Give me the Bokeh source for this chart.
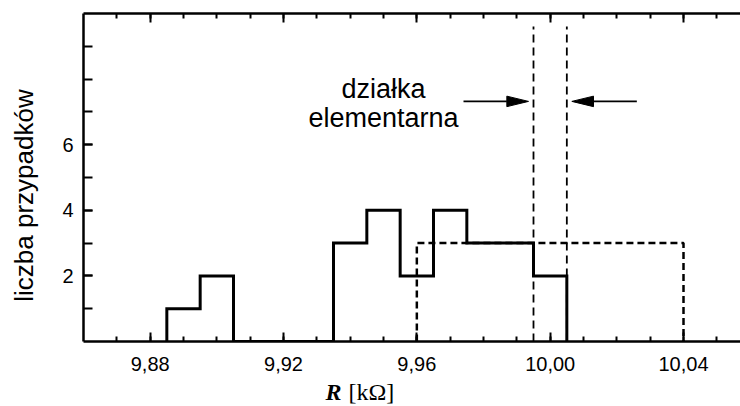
import math
from bokeh.plotting import figure
from bokeh.layouts import row, column
from bokeh.models import (Range1d, LinearAxis, FixedTicker, CustomJSTickFormatter,
                          CustomLabelingPolicy)
from bokeh.core.properties import value
from bokeh.embed import file_html
from bokeh.resources import INLINE

# ---- data ----
bin_centers = [9.89, 9.90, 9.91, 9.92, 9.93, 9.94, 9.95, 9.96, 9.97, 9.98, 9.99, 10.00]
counts = [1, 2, 0, 0, 0, 3, 4, 2, 4, 3, 3, 2]
bin_width = 0.01
wide_edges = [9.96, 10.04]
wide_count = 3
division_edges = [9.995, 10.005]
division_top = 9.6
arrow_left_x = [9.974, 9.9935]
arrow_right_x = [10.026, 10.0065]
arrow_y = 7.32
note_lines = ["działka", "elementarna"]
note_x = [9.95, 9.95]
note_y = [7.69, 6.81]
x_ticks = [9.88, 9.92, 9.96, 10.00, 10.04]
x_tick_labels = ["9,88", "9,92", "9,96", "10,00", "10,04"]
x_minor_ticks = [9.87, 9.88, 9.89, 9.90, 9.91, 9.92, 9.93, 9.94, 9.95, 9.96, 9.97,
                 9.98, 9.99, 10.00, 10.01, 10.02, 10.03, 10.04, 10.05]
y_ticks = [2, 4, 6]
y_tick_labels = ["2", "4", "6"]
y_minor_ticks = [1, 2, 3, 4, 5, 6, 7, 8, 9]
y_label = "liczba przypadków"
x_label_symbol = "R"
x_label_unit = "[kΩ]"

X_RANGE = Range1d(9.86, 10.0571)
Y_RANGE = Range1d(0, 10)
MAIN_H = 378
TOP_B, BOT_B = 13, 37

# ---- main figure ----
p = figure(width=700, height=MAIN_H, title=None, output_backend="svg", toolbar_location=None,
           x_range=X_RANGE, y_range=Y_RANGE,
           x_axis_location=None, y_axis_location=None,
           min_border_left=43, min_border_right=0, min_border_top=TOP_B, min_border_bottom=BOT_B)
p.outline_line_color = None
p.xgrid.visible = False
p.ygrid.visible = False
p.background_fill_color = "white"
p.border_fill_color = "white"

fmt_code = """
    for (let i = 0; i < tv.length; i++) { if (Math.abs(tv[i] - tick) < 1e-6) return tl[i]; }
    return String(tick);
"""
xfmt = CustomJSTickFormatter(args=dict(tv=x_ticks, tl=x_tick_labels), code=fmt_code)
yfmt = CustomJSTickFormatter(args=dict(tv=y_ticks, tl=y_tick_labels), code=fmt_code)

def style_axis(ax):
    ax.axis_line_width = 2.5
    ax.axis_line_color = "black"
    ax.major_tick_line_width = 2
    ax.minor_tick_line_width = 2
    ax.major_tick_out = 0
    ax.minor_tick_out = 0
    ax.major_label_text_font = "Liberation Sans"
    ax.major_label_text_font_size = "20px"
    ax.major_label_text_color = "black"
    ax.major_label_standoff = 10

xb = LinearAxis(ticker=FixedTicker(ticks=x_ticks, minor_ticks=x_minor_ticks), formatter=xfmt)
style_axis(xb)
xb.major_label_standoff = 15
xb.major_tick_in = 9
xb.minor_tick_in = 5
p.add_layout(xb, "below")

xt = LinearAxis(ticker=FixedTicker(ticks=x_ticks, minor_ticks=x_minor_ticks), formatter=xfmt,
                major_label_policy=CustomLabelingPolicy(code="return new Set()"))
style_axis(xt)
xt.major_label_text_font_size = "0px"
xt.major_label_standoff = 0
xt.major_tick_in = 9
xt.minor_tick_in = 5
p.add_layout(xt, "above")

yl = LinearAxis(ticker=FixedTicker(ticks=y_ticks, minor_ticks=y_minor_ticks), formatter=yfmt)
style_axis(yl)
yl.major_tick_in = 9
yl.minor_tick_in = 9
p.add_layout(yl, "left")

# ---- solid histogram outline ----
hx, hy = [], []
for c, n in zip(bin_centers, counts):
    left, right = c - bin_width / 2, c + bin_width / 2
    if not hx:
        hx.append(left); hy.append(0)
    hx += [left, right]; hy += [n, n]
hx.append(hx[-1]); hy.append(0)
p.line(hx, hy, line_color="black", line_width=3, line_join="miter")

# ---- dashed wide-bin histogram ----
wx = [wide_edges[0], wide_edges[0], wide_edges[1], wide_edges[1]]
wy = [0, wide_count, wide_count, 0]
p.line(wx, wy, line_color="black", line_width=2.5, line_dash="7 4")

# ---- elementary division lines ----
for xe in division_edges:
    p.line([xe, xe], [0, division_top], line_color="black", line_width=1.8, line_dash="8 5")

# ---- arrows ----
head_len = 0.0065
head_half = 0.16
for xs in (arrow_left_x, arrow_right_x):
    start, tip = xs
    d = 1 if tip > start else -1
    base = tip - d * head_len
    p.line([start, base], [arrow_y, arrow_y], line_color="black", line_width=1.6)
    p.patch([tip, base, base], [arrow_y, arrow_y + head_half, arrow_y - head_half],
            fill_color="black", line_color="black", line_width=1)

p.text(x=note_x, y=note_y, text=note_lines, text_align="center", text_baseline="middle",
       text_font=value("Liberation Sans"), text_font_size="27px", text_color="black")

def blank_fig(**kw):
    f = figure(title=None, output_backend="svg", toolbar_location=None,
               x_axis_location=None, y_axis_location=None, **kw)
    f.outline_line_color = None
    f.xgrid.visible = False
    f.ygrid.visible = False
    f.background_fill_color = "white"
    f.border_fill_color = "white"
    return f

# ---- y label column ----
yfig = blank_fig(width=40, height=MAIN_H, x_range=Range1d(0, 40), y_range=Y_RANGE,
                 min_border_left=0, min_border_right=0, min_border_top=TOP_B, min_border_bottom=BOT_B)
yfig.text(x=[23], y=[4.45], text=[y_label], angle=math.pi / 2, text_align="center",
          text_baseline="middle", text_font=value("Liberation Sans"), text_font_size="26px",
          text_color="black")

# ---- x label row ----
XL_H = 406 - MAIN_H
xfig = blank_fig(width=700, height=XL_H, x_range=X_RANGE, y_range=Range1d(0, XL_H),
                 min_border_left=43, min_border_right=0, min_border_top=0, min_border_bottom=0)
xfig.text(x=[9.9326], y=[14.1], text=[x_label_symbol], text_align="left", text_baseline="middle",
          text_font=value("Liberation Serif"), text_font_style="bold italic",
          text_font_size="24px", text_color="black")
xfig.text(x=[9.9326], y=[14.1], x_offset=23, text=[x_label_unit], text_align="left",
          text_baseline="middle", text_font=value("Liberation Serif"),
          text_font_size="24px", text_color="black")

layout = row(yfig, column(p, xfig, spacing=0), spacing=0)
open("out.html", "w").write(file_html(layout, INLINE))
